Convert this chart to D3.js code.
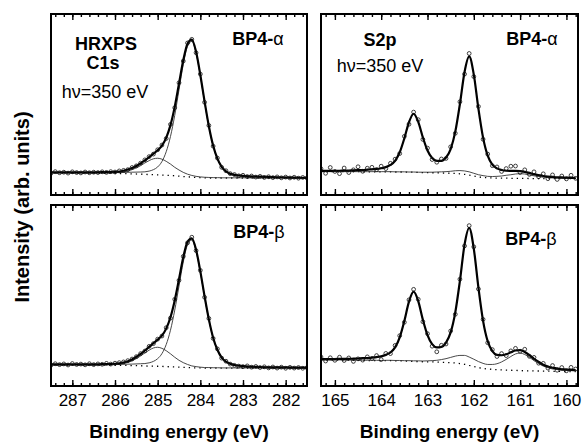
<!DOCTYPE html>
<html>
<head>
<meta charset="utf-8">
<script src="https://cdn.jsdelivr.net/npm/d3@7/dist/d3.min.js"></script>
<style>
  body { margin: 0; background: #fff; }
  svg { display: block; font-family: "Liberation Sans", Arial, sans-serif; }
</style>
</head>
<body>
<svg id="chart" width="584" height="443"></svg>
<script>
// ---- C1s (binding energy grid for fitted curves) ----
const c1sE = [287.5, 287.2, 286.9, 286.6, 286.3, 286.0, 285.8, 285.6, 285.4,
  285.3, 285.2, 285.1, 285.0, 284.9, 284.8, 284.7, 284.6, 284.5, 284.4, 284.3,
  284.2, 284.1, 284.0, 283.9, 283.8, 283.7, 283.6, 283.5, 283.4,
  283.2, 283.0, 282.6, 282.2, 281.8, 281.5]

const c1sA_base = [12.2, 12.2, 12.1, 12.1, 12.0, 11.9, 11.8, 11.7, 11.5,
  11.4, 11.3, 11.2, 11.1, 11.0, 10.9, 10.8, 10.6, 10.4, 10.2, 10.0,
  9.9, 9.7, 9.6, 9.5, 9.4, 9.4, 9.4, 9.4, 9.4,
  9.4, 9.4, 9.4, 9.4, 9.3, 9.3]
const c1sA_main = [0.2, 0.2, 0.3, 0.3, 0.4, 0.5, 0.7, 0.9, 1.2,
  1.4, 1.9, 2.8, 4.4, 7.5, 13.0, 21.5, 33.4, 47.7, 61.9, 72.1,
  75.0, 68.8, 56.3, 41.8, 28.3, 17.7, 10.5, 6.1, 3.6,
  1.7, 1.2, 0.7, 0.4, 0.3, 0.2]
const c1sA_shoulder = [0.1, 0.1, 0.1, 0.1, 0.2, 0.4, 0.9, 2.3, 4.7,
  6.3, 7.7, 8.8, 9.2, 8.8, 7.7, 6.3, 4.7, 3.4, 2.3, 1.5,
  0.9, 0.6, 0.4, 0.3, 0.3, 0.2, 0.2, 0.1, 0.1,
  0.1, 0.1, 0, 0, 0, 0]
const c1sA_fit = [12.5, 12.5, 12.5, 12.5, 12.6, 12.8, 13.4, 14.9, 17.4,
  19.1, 20.9, 22.8, 24.7, 27.3, 31.6, 38.6, 48.7, 61.5, 74.4, 83.6,
  85.8, 79.1, 66.3, 51.6, 38.0, 27.3, 20.1, 15.6, 13.1,
  11.1, 10.6, 10.1, 9.8, 9.6, 9.5]

const c1sB_base = [11.6, 11.6, 11.6, 11.5, 11.5, 11.4, 11.4, 11.3, 11.2,
  11.1, 11.0, 11.0, 10.9, 10.8, 10.7, 10.6, 10.5, 10.4, 10.3, 10.2,
  10.1, 10.0, 10.0, 9.9, 9.9, 9.9, 9.9, 9.9, 9.9,
  9.9, 9.9, 9.9, 9.9, 9.9, 9.9]
const c1sB_main = [0.2, 0.2, 0.3, 0.3, 0.4, 0.5, 0.6, 0.8, 1.1,
  1.3, 1.8, 2.6, 4.2, 7.1, 12.2, 20.2, 31.4, 44.8, 58.2, 67.8,
  70.5, 64.6, 52.9, 39.3, 26.6, 16.6, 9.9, 5.7, 3.4,
  1.6, 1.1, 0.6, 0.4, 0.3, 0.2]
const c1sB_shoulder = [0.1, 0.1, 0.1, 0.1, 0.2, 0.4, 1.0, 2.6, 5.4,
  7.2, 8.8, 10.0, 10.5, 10.0, 8.8, 7.2, 5.4, 3.8, 2.6, 1.7,
  1.0, 0.7, 0.4, 0.3, 0.3, 0.2, 0.2, 0.1, 0.1,
  0.1, 0.1, 0, 0, 0, 0]
const c1sB_fit = [11.9, 11.9, 12.0, 11.9, 12.1, 12.3, 13.0, 14.7, 17.7,
  19.6, 21.6, 23.6, 25.6, 27.9, 31.7, 38.0, 47.3, 59.0, 71.1, 79.7,
  81.6, 75.3, 63.3, 49.5, 36.8, 26.7, 20.0, 15.7, 13.4,
  11.6, 11.0, 10.5, 10.3, 10.2, 10.1]

// measured points (open circles)
const c1sPtE = [287.5, 287.4, 287.3, 287.2, 287.1, 287.0, 286.9, 286.8, 286.7, 286.6,
  286.5, 286.4, 286.3, 286.2, 286.1, 286.0, 285.9, 285.8, 285.7, 285.6,
  285.5, 285.4, 285.3, 285.2, 285.1, 285.0, 284.9, 284.8, 284.7, 284.6,
  284.5, 284.4, 284.3, 284.2, 284.1, 284.0, 283.9, 283.8, 283.7, 283.6,
  283.5, 283.4, 283.3, 283.2, 283.1, 283.0, 282.9, 282.8, 282.7, 282.6,
  282.5, 282.4, 282.3, 282.2, 282.1, 282.0, 281.9, 281.8, 281.7, 281.6, 281.5]
const c1sA_pts = [12.0, 12.9, 12.3, 12.6, 12.1, 12.8, 12.4, 12.2, 12.7, 12.3,
  12.6, 12.4, 12.8, 12.5, 12.9, 12.7, 13.3, 13.6, 14.0, 15.2,
  16.1, 17.6, 19.4, 21.2, 22.6, 25.0, 27.6, 31.2, 39.0, 48.2,
  62.0, 74.0, 84.0, 86.0, 78.6, 66.8, 51.2, 38.4, 27.0, 20.4,
  15.3, 13.4, 11.8, 11.3, 10.6, 10.9, 10.2, 10.5, 9.9, 10.3,
  9.7, 10.1, 9.6, 10.0, 9.5, 9.9, 9.4, 9.8, 9.3, 9.7, 9.4]
const c1sB_pts = [11.5, 12.3, 11.8, 12.2, 11.6, 12.4, 11.9, 12.1, 11.7, 12.3,
  11.8, 12.2, 12.0, 12.5, 12.1, 12.6, 12.9, 13.3, 14.0, 14.9,
  16.2, 17.9, 19.3, 21.9, 23.4, 25.9, 27.6, 32.2, 37.5, 47.9,
  58.4, 71.6, 79.1, 82.2, 74.8, 63.9, 49.0, 37.3, 26.3, 20.5,
  15.4, 13.7, 12.1, 11.4, 11.0, 10.7, 11.1, 10.4, 10.8, 10.2,
  10.6, 10.0, 10.5, 9.9, 10.4, 9.8, 10.3, 9.9, 10.2, 9.8, 10.1]

// ---- S2p ----
const s2pE = [165.3, 165.2, 165.1, 165.0, 164.9, 164.8, 164.7, 164.6, 164.5, 164.4,
  164.3, 164.2, 164.1, 164.0, 163.9, 163.8, 163.7, 163.6, 163.5, 163.4,
  163.3, 163.2, 163.1, 163.0, 162.9, 162.8, 162.7, 162.6, 162.5, 162.4,
  162.3, 162.2, 162.1, 162.0, 161.9, 161.8, 161.7, 161.6, 161.5, 161.4,
  161.3, 161.2, 161.1, 161.0, 160.9, 160.8, 160.7, 160.6, 160.5, 160.4,
  160.3, 160.2, 160.1, 160.0, 159.9, 159.8]

const s2pA_base = [12.9, 12.9, 12.9, 12.9, 12.9, 12.9, 12.9, 12.9, 12.9, 12.8,
  12.8, 12.8, 12.8, 12.8, 12.8, 12.8, 12.7, 12.7, 12.7, 12.6,
  12.6, 12.5, 12.4, 12.4, 12.3, 12.3, 12.2, 12.1, 12.0, 11.9,
  11.7, 11.4, 11.0, 10.5, 10.0, 9.7, 9.5, 9.4, 9.3, 9.3,
  9.3, 9.2, 9.2, 9.2, 9.2, 9.1, 9.1, 9.1, 9.1, 9.1,
  9.0, 9.0, 9.0, 9.0, 9.0, 9.0]
const s2pA_minor = [0, 0, 0, 0, 0, 0, 0, 0, 0, 0.1,
  0.1, 0.1, 0.1, 0.1, 0.1, 0.1, 0.1, 0.1, 0.1, 0.1,
  0.1, 0.1, 0.2, 0.2, 0.3, 0.4, 0.6, 0.8, 1.1, 1.5,
  1.8, 1.9, 1.8, 1.5, 1.2, 1.0, 0.8, 0.8, 1.0, 1.2,
  1.6, 2.0, 2.4, 2.6, 2.4, 2.0, 1.5, 1.1, 0.7, 0.5,
  0.4, 0.3, 0.2, 0.2, 0.1, 0.1]
const s2pA_fit = [13.3, 13.3, 13.3, 13.4, 13.4, 13.5, 13.5, 13.6, 13.7, 13.8,
  14.0, 14.2, 14.4, 14.8, 15.4, 16.6, 18.9, 23.6, 31.3, 40.2,
  44.9, 40.4, 31.8, 24.6, 20.4, 18.9, 18.9, 20.7, 25.4, 35.0,
  50.3, 68.0, 76.6, 66.5, 47.6, 31.7, 21.7, 16.8, 14.7, 13.8,
  13.4, 13.3, 13.3, 13.2, 12.8, 12.2, 11.5, 11.0, 10.5, 10.2,
  10.0, 9.8, 9.7, 9.6, 9.5, 9.5]
const s2pA_pts = [14.5, 12.0, 15.2, 13.0, 11.8, 14.9, 12.4, 13.9, 15.6, 13.1,
  14.8, 15.3, 14.0, 15.9, 14.6, 17.5, 19.8, 22.9, 32.4, 39.1,
  45.8, 41.6, 30.7, 25.9, 19.6, 18.1, 19.9, 20.2, 26.6, 34.1,
  51.5, 66.8, 78.2, 65.4, 48.9, 30.8, 22.6, 16.2, 15.5, 13.0,
  14.6, 15.9, 16.0, 12.4, 13.9, 11.4, 12.8, 10.1, 11.7, 9.0,
  11.1, 8.6, 10.5, 8.9, 10.9, 9.2]

const s2pB_base = [14.3, 14.3, 14.3, 14.3, 14.3, 14.2, 14.2, 14.2, 14.2, 14.2,
  14.1, 14.1, 14.1, 14.0, 14.0, 14.0, 13.9, 13.9, 13.8, 13.7,
  13.6, 13.5, 13.4, 13.3, 13.3, 13.2, 13.1, 13.0, 12.9, 12.7,
  12.4, 12.0, 11.4, 10.8, 10.2, 9.7, 9.4, 9.2, 9.0, 8.9,
  8.8, 8.7, 8.6, 8.5, 8.4, 8.4, 8.3, 8.3, 8.2, 8.2,
  8.1, 8.1, 8.0, 8.0, 8.0, 8.0]
const s2pB_minor = [0.1, 0.1, 0.1, 0.1, 0.1, 0.1, 0.1, 0.1, 0.1, 0.1,
  0.1, 0.1, 0.1, 0.1, 0.2, 0.2, 0.2, 0.2, 0.2, 0.3,
  0.3, 0.4, 0.4, 0.6, 0.7, 1.0, 1.5, 2.1, 2.9, 3.8,
  4.5, 4.9, 4.6, 4.0, 3.3, 2.8, 2.5, 2.7, 3.3, 4.4,
  5.9, 7.6, 9.1, 9.7, 9.0, 7.5, 5.7, 4.1, 2.8, 1.9,
  1.3, 1.0, 0.7, 0.6, 0.5, 0.4]
const s2pB_fit = [14.8, 14.9, 14.9, 14.9, 15.0, 15.0, 15.0, 15.1, 15.2, 15.4,
  15.4, 15.7, 16.0, 16.4, 17.2, 18.5, 21.3, 26.9, 35.9, 46.6,
  52.1, 46.9, 36.6, 28.1, 23.1, 21.3, 21.6, 24.0, 29.6, 40.7,
  58.1, 78.1, 87.4, 75.8, 54.3, 36.0, 24.7, 19.3, 17.2, 17.0,
  17.5, 18.6, 19.6, 19.8, 18.8, 17.1, 15.0, 13.3, 11.8, 10.8,
  10.1, 9.7, 9.2, 9.1, 8.9, 8.8]
const s2pB_pts = [16.0, 13.8, 15.6, 14.2, 15.9, 14.1, 15.5, 13.6, 15.0, 14.3,
  16.1, 15.2, 16.8, 14.6, 18.0, 17.9, 22.4, 27.8, 35.2, 47.6,
  53.4, 47.9, 35.5, 28.9, 22.0, 18.9, 22.5, 23.2, 30.4, 39.6,
  59.0, 77.4, 88.6, 76.9, 53.6, 36.8, 23.9, 20.1, 16.3, 17.9,
  16.8, 19.4, 20.8, 19.2, 20.3, 16.4, 15.8, 12.6, 12.5, 9.9,
  11.3, 8.7, 10.2, 8.4, 10.3, 9.4]

// axis ticks
const c1sTicks = [287, 286, 285, 284, 283, 282]
const s2pTicks = [165, 164, 163, 162, 161, 160]

const svg = d3.select("#chart")

const cols = [{ x0: 51, x1: 307 }, { x0: 321, x1: 578 }]
const rows = [{ y0: 14, y1: 195 }, { y0: 205, y1: 386 }]

const panels = [
  { col: 0, row: 0, domain: [287.5, 281.5], ticks: c1sTicks, lineE: c1sE, base: c1sA_base,
    comps: [c1sA_main, c1sA_shoulder], fit: c1sA_fit, ptE: c1sPtE, pts: c1sA_pts },
  { col: 0, row: 1, domain: [287.5, 281.5], ticks: c1sTicks, lineE: c1sE, base: c1sB_base,
    comps: [c1sB_main, c1sB_shoulder], fit: c1sB_fit, ptE: c1sPtE, pts: c1sB_pts },
  { col: 1, row: 0, domain: [165.3, 159.75], ticks: s2pTicks, lineE: s2pE, base: s2pA_base,
    comps: [s2pA_minor], fit: s2pA_fit, ptE: s2pE, pts: s2pA_pts },
  { col: 1, row: 1, domain: [165.3, 159.75], ticks: s2pTicks, lineE: s2pE, base: s2pB_base,
    comps: [s2pB_minor], fit: s2pB_fit, ptE: s2pE, pts: s2pB_pts },
]

panels.forEach(p => {
  const c = cols[p.col], r = rows[p.row]
  const x = d3.scaleLinear().domain(p.domain).range([c.x0, c.x1])
  const y = d3.scaleLinear().domain([0, 100]).range([r.y1, r.y0])
  const g = svg.append("g")

  const clipId = `clip${p.col}${p.row}`
  svg.append("clipPath").attr("id", clipId)
    .append("rect").attr("x", c.x0).attr("y", r.y0)
    .attr("width", c.x1 - c.x0).attr("height", r.y1 - r.y0)
  const plot = g.append("g").attr("clip-path", `url(#${clipId})`)

  const line = d3.line()
    .x(d => x(d[0]))
    .y(d => y(d[1]))
    .curve(d3.curveMonotoneX)

  // dotted background
  plot.append("path")
    .datum(p.lineE.map((e, i) => [e, p.base[i]]))
    .attr("d", line)
    .attr("fill", "none")
    .attr("stroke", "#000")
    .attr("stroke-width", 1.3)
    .attr("stroke-dasharray", "1.3,4")

  // thin fitted components
  p.comps.forEach(comp => {
    plot.append("path")
      .datum(p.lineE.map((e, i) => [e, p.base[i] + comp[i]]))
      .attr("d", line)
      .attr("fill", "none")
      .attr("stroke", "#333")
      .attr("stroke-width", 0.9)
  })

  // envelope
  plot.append("path")
    .datum(p.lineE.map((e, i) => [e, p.fit[i]]))
    .attr("d", line)
    .attr("fill", "none")
    .attr("stroke", "#000")
    .attr("stroke-width", 2.2)

  // data points
  plot.selectAll(".dot")
    .data(p.ptE.map((e, i) => [e, p.pts[i]]))
    .enter().append("circle")
    .attr("class", "dot")
    .attr("cx", d => x(d[0]))
    .attr("cy", d => y(d[1]))
    .attr("r", 1.9)
    .attr("fill", "none")
    .attr("stroke", "#111")
    .attr("stroke-width", 0.8)

  // inward ticks, top and bottom
  const lo = Math.min(...p.domain), hi = Math.max(...p.domain)
  const minor = d3.range(Math.ceil(lo * 5), Math.floor(hi * 5) + 1).map(v => v / 5)
  const showLabels = p.row === 1

  ;[["top", r.y0], ["bottom", r.y1]].forEach(([side, yy]) => {
    const mk = side === "top" ? d3.axisTop : d3.axisBottom
    g.append("g")
      .attr("transform", `translate(0,${yy})`)
      .call(mk(x).tickValues(minor).tickSize(-3).tickFormat(""))
      .call(s => s.select(".domain").remove())
      .selectAll("line").attr("stroke-width", 1.4)
    const major = g.append("g")
      .attr("transform", `translate(0,${yy})`)
      .call(mk(x).tickValues(p.ticks).tickSize(-6).tickPadding(8)
        .tickFormat(side === "bottom" && showLabels ? d3.format("d") : ""))
      .call(s => s.select(".domain").remove())
    major.selectAll("line").attr("stroke-width", 1.4)
    major.selectAll("text")
      .attr("font-size", 17)
      .attr("font-family", "'Liberation Sans', Arial, sans-serif")
      .attr("fill", "#000")
  })

  // frame
  g.append("rect")
    .attr("x", c.x0).attr("y", r.y0)
    .attr("width", c.x1 - c.x0).attr("height", r.y1 - r.y0)
    .attr("fill", "none")
    .attr("stroke", "#000")
    .attr("stroke-width", 2)
})

// panel annotations
const notes = [
  { x: 106, y: 50, text: "HRXPS", bold: true },
  { x: 103, y: 69, text: "C1s", bold: true },
  { x: 105, y: 98, text: "hν=350 eV", bold: false },
  { x: 380, y: 46, text: "S2p", bold: true },
  { x: 380, y: 72, text: "hν=350 eV", bold: false },
]
notes.forEach(n => {
  svg.append("text")
    .attr("x", n.x).attr("y", n.y)
    .attr("text-anchor", "middle")
    .attr("font-size", 18)
    .attr("font-weight", n.bold ? "bold" : "normal")
    .text(n.text)
})

const sampleLabels = [
  { x: 258, y: 45, greek: "α" },
  { x: 532, y: 45, greek: "α" },
  { x: 259, y: 238, greek: "β" },
  { x: 531, y: 245, greek: "β" },
]
sampleLabels.forEach(s => {
  const t = svg.append("text")
    .attr("x", s.x).attr("y", s.y)
    .attr("text-anchor", "middle")
    .attr("font-size", 18)
    .attr("font-weight", "bold")
  t.append("tspan").text("BP4-")
  t.append("tspan").attr("font-weight", "normal").text(s.greek)
})

// axis titles
const xTitle = "Binding energy (eV)"
cols.forEach(c => {
  svg.append("text")
    .attr("x", (c.x0 + c.x1) / 2)
    .attr("y", 438)
    .attr("text-anchor", "middle")
    .attr("font-size", 19)
    .attr("font-weight", "bold")
    .text(xTitle)
})

svg.append("text")
  .attr("transform", "translate(29,207) rotate(-90)")
  .attr("text-anchor", "middle")
  .attr("font-size", 20)
  .attr("font-weight", "bold")
  .text("Intensity (arb. units)")
</script>
</body>
</html>
